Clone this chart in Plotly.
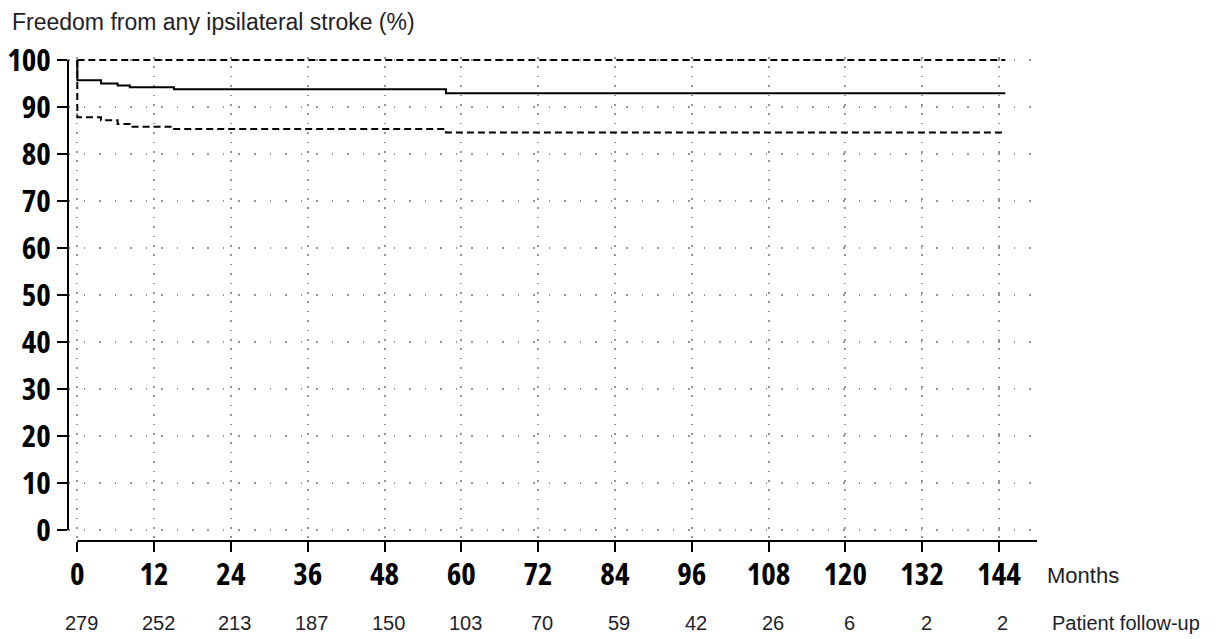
import plotly.graph_objects as go

# ---- data ----
months = [0, 0, 3.7, 6.3, 8.2, 15.1, 57.6, 145]
survival = [100, 95.7, 95.0, 94.6, 94.2, 93.8, 92.9, 92.9]
lower_ci = [100, 87.8, 87.2, 86.4, 85.8, 85.3, 84.6, 84.6]
upper_ci = [100, 100, 100, 100, 100, 100, 100, 100]

tick_months = [0, 12, 24, 36, 48, 60, 72, 84, 96, 108, 120, 132, 144]
follow_up = [279, 252, 213, 187, 150, 103, 70, 59, 42, 26, 6, 2, 2]
y_ticks = [0, 10, 20, 30, 40, 50, 60, 70, 80, 90, 100]

OFF = 8                      # page body margin
W, H = 1219 - OFF, 639 - OFF
TICKFONT = dict(family="Open Sans, Liberation Sans, sans-serif",
                size=31, color="black", weight="bold")
TEXTFONT = dict(family="Liberation Sans, Arial, sans-serif", size=20, color="#1e1e28")


def narrow(v):
    return '<span style="font-stretch:75%">' + str(v) + '</span>'


# plot-area geometry (pixels in the screenshot)
L, R_EDGE, T, B_EDGE = 68, 1037, 57, 541
x_per, y_per = 6.4, 4.7
x_zero_px, y_zero_px = 77.3, 530
xr = [-(x_zero_px - L) / x_per, (R_EDGE - x_zero_px) / x_per]
yr = [-(B_EDGE - y_zero_px) / y_per, (y_zero_px - T) / y_per]


def px(xp):
    return (xp - L) / (R_EDGE - L)


def py(yp):
    return (B_EDGE - yp) / (B_EDGE - T)


fig = go.Figure()
fig.add_trace(go.Scatter(x=months, y=upper_ci, mode="lines", line_shape="hv",
                         line=dict(color="black", width=2, dash="7px,4px"), hoverinfo="skip"))
fig.add_trace(go.Scatter(x=months, y=lower_ci, mode="lines", line_shape="hv",
                         line=dict(color="black", width=2, dash="7px,4px"), hoverinfo="skip"))
fig.add_trace(go.Scatter(x=months, y=survival, mode="lines", line_shape="hv",
                         line=dict(color="black", width=2)))

fig.update_layout(
    width=W, height=H,
    margin=dict(l=L - OFF, r=W - (R_EDGE - OFF), t=T - OFF, b=H - (B_EDGE - OFF),
                pad=0, autoexpand=False),
    paper_bgcolor="white", plot_bgcolor="white", showlegend=False,
    xaxis=dict(range=xr, showline=False,
               ticks="outside", ticklen=10, tickwidth=2, tickcolor="black",
               tickvals=tick_months, ticktext=[narrow(t) for t in tick_months],
               tickfont=TICKFONT, ticklabelstandoff=-4,
               showgrid=True, gridcolor="#959595", gridwidth=1.5,
               griddash="1.5px,7.9px", zeroline=False, fixedrange=True, automargin=False),
    yaxis=dict(range=yr, showline=False,
               ticks="outside", ticklen=10, tickwidth=2, tickcolor="black",
               tickvals=y_ticks, ticktext=[narrow(t) for t in y_ticks],
               tickfont=TICKFONT, showgrid=True, gridcolor="#959595", gridwidth=1.5,
               griddash="1.5px,14px", zeroline=False, fixedrange=True, automargin=False),
)

# separated axis lines (y from 0 to 100, x from 0 to the right end)
fig.add_shape(type="line", xref="paper", yref="y", x0=0, x1=0, y0=y_ticks[0], y1=y_ticks[-1],
              line=dict(color="black", width=2), layer="above")
fig.add_shape(type="line", xref="x", yref="paper", x0=tick_months[0], x1=xr[1], y0=0, y1=0,
              line=dict(color="black", width=2), layer="above")

fig.add_annotation(text="Freedom from any ipsilateral stroke (%)", xref="paper", yref="paper",
                   x=px(10), y=py(22), xanchor="left", yanchor="middle",
                   showarrow=False, font=dict(TEXTFONT, size=23))
fig.add_annotation(text="Months", xref="paper", yref="paper",
                   x=px(1045), y=py(575), xanchor="left", yanchor="middle",
                   showarrow=False, font=dict(TEXTFONT, size=22))
fig.add_annotation(text="Patient follow-up", xref="paper", yref="paper",
                   x=px(1050), y=py(623), xanchor="left", yanchor="middle",
                   showarrow=False, font=TEXTFONT)
for m, n in zip(tick_months, follow_up):
    fig.add_annotation(text=str(n), x=m, xref="x", yref="paper", y=py(623),
                       xanchor="center", yanchor="middle", xshift=4,
                       showarrow=False, font=TEXTFONT)

fig.write_html("out.html", config={"displayModeBar": False})
